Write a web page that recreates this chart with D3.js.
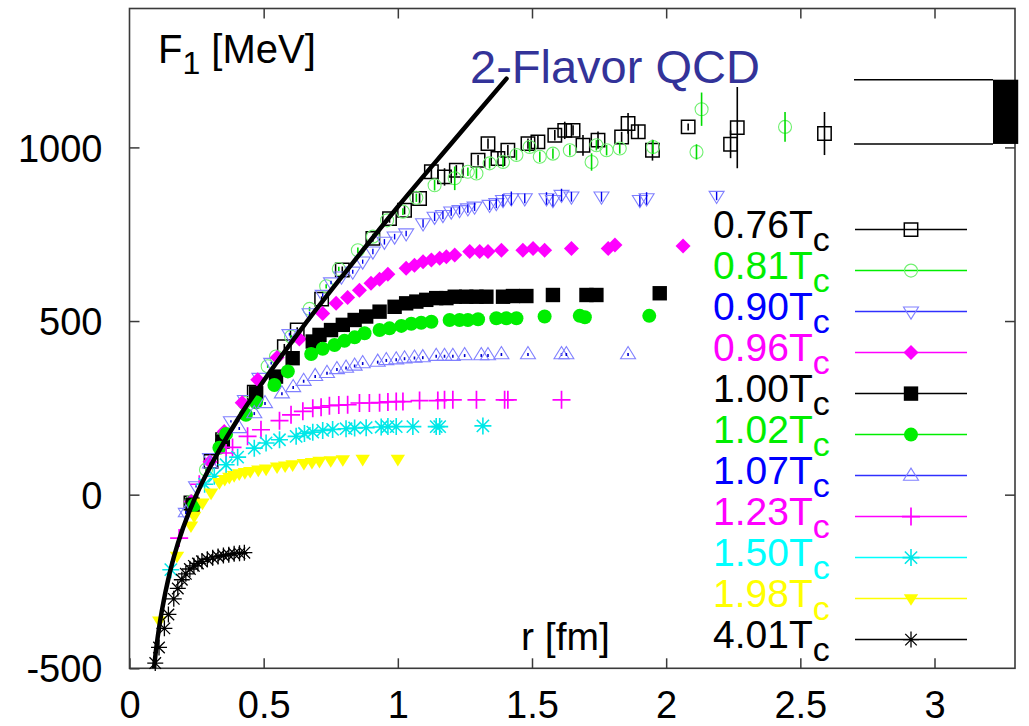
<!DOCTYPE html>
<html><head><meta charset="utf-8">
<script src="https://cdn.jsdelivr.net/npm/d3@7"></script>
<style>
html,body{margin:0;padding:0;background:#fff;}
svg{display:block;font-family:"Liberation Sans",Arial,Helvetica,sans-serif;}
</style></head>
<body>
<svg id="chart" width="1029" height="726"></svg>
<script>
// ---------------- data (r [fm], F1 [MeV], error [MeV]) ----------------
const xTicks = [0, 0.5, 1, 1.5, 2, 2.5, 3];
const xTickLabels = ["0", "0.5", "1", "1.5", "2", "2.5", "3"];
const yTicks = [-500, 0, 500, 1000];
const yTickLabels = ["-500", "0", "500", "1000"];

const legendLabels = ["0.76", "0.81", "0.90", "0.96", "1.00", "1.02", "1.07", "1.23", "1.50", "1.98", "4.01"];

const s076 = [[0.229,-24,8],[0.304,96,8],[0.347,158,8],[0.465,295,8],[0.577,426,8],[0.625,474,8],[0.716,563,8],[0.793,647,10],[0.907,738,10],[0.969,795,12],[1.025,819,12],[1.081,853,15],[1.125,930,20],[1.174,915,25],[1.218,934,15],[1.299,963,15],[1.336,1011,15],[1.373,968,20],[1.41,992,15],[1.485,1011,15],[1.522,1016,20],[1.585,1035,15],[1.622,1049,25],[1.653,1049,15],[1.69,1006,30],[1.746,1021,25],[1.834,1030,15],[1.858,1069,30],[1.896,1045,20],[1.949,992,30],[2.082,1059,10],[2.24,1009,40],[2.265,1057,117],[2.59,1040,62]];
const s081 = [[0.23,-20,5],[0.285,72,5],[0.347,165,5],[0.428,264,5],[0.515,370,5],[0.546,398,5],[0.602,455,5],[0.671,535,6],[0.733,600,6],[0.78,650,6],[0.851,704,8],[0.907,743,8],[0.96,790,8],[1.019,815,10],[1.069,855,12],[1.137,891,15],[1.212,911,34],[1.261,930,12],[1.293,925,15],[1.342,954,15],[1.392,958,15],[1.442,978,15],[1.491,1001,15],[1.529,973,15],[1.578,982,15],[1.641,992,15],[1.722,958,25],[1.74,1006,15],[1.778,992,15],[1.827,997,15],[1.951,1001,20],[2.113,987,22],[2.132,1110,48],[2.443,1059,43]];
const s090 = [[0.21,-53,3],[0.248,24,3],[0.30,105,3],[0.378,211,3],[0.43,272,3],[0.484,336,3],[0.528,379,4],[0.596,462,4],[0.671,522,5],[0.72,575,5],[0.751,611,5],[0.79,628,6],[0.832,642,6],[0.869,671,6],[0.907,700,8],[0.95,728,8],[0.988,743,8],[1.031,752,8],[1.094,781,12],[1.137,800,12],[1.168,805,12],[1.199,815,12],[1.23,819,12],[1.261,824,12],[1.286,829,12],[1.342,834,14],[1.367,839,14],[1.392,848,18],[1.423,853,20],[1.473,853,14],[1.554,853,18],[1.578,848,18],[1.61,863,18],[1.647,858,14],[1.759,858,14],[1.902,848,18],[1.927,853,18],[2.188,860,12]];
const s096 = [[0.23,-20],[0.30,95],[0.353,182],[0.42,265],[0.478,331],[0.55,395],[0.633,448],[0.72,522],[0.77,551],[0.813,568],[0.857,589],[0.9,609],[0.932,620],[0.963,635],[1.031,652],[1.062,661],[1.094,671],[1.125,676],[1.156,681],[1.181,685],[1.212,690],[1.268,700],[1.305,700],[1.336,700],[1.386,704],[1.466,704],[1.504,709],[1.547,704],[1.647,709],[1.784,709],[1.809,719],[2.063,716]];
const s100 = [[0.235,-29],[0.347,153],[0.472,292],[0.546,340],[0.608,393],[0.683,441],[0.708,460],[0.751,474],[0.795,489],[0.839,503],[0.882,513],[0.932,527],[0.988,541],[1.031,551],[1.069,556],[1.106,561],[1.143,566],[1.181,566],[1.212,570],[1.255,570],[1.293,570],[1.33,570],[1.392,570],[1.429,572],[1.479,572],[1.578,575],[1.703,575],[1.74,575],[1.976,580]];
const s102 = [[0.241,-30],[0.335,135],[0.36,175],[0.434,230],[0.472,266],[0.54,316],[0.59,355],[0.677,405],[0.72,420],[0.764,431],[0.801,443],[0.839,453],[0.876,465],[0.932,474],[0.969,479],[1.013,486],[1.05,492],[1.087,495],[1.125,498],[1.193,503],[1.23,503],[1.261,503],[1.299,505],[1.367,508],[1.404,508],[1.442,508],[1.547,513],[1.678,515],[1.697,511],[1.937,515]];
const s107 = [[0.21,-50],[0.30,90],[0.409,192],[0.465,235],[0.505,264],[0.568,292],[0.61,310],[0.649,328],[0.692,342],[0.736,351],[0.773,362],[0.807,366],[0.839,372],[0.869,379],[0.925,383],[0.957,388],[0.994,390],[1.025,393],[1.062,395],[1.093,396],[1.143,400],[1.174,400],[1.205,400],[1.249,402],[1.311,402],[1.336,402],[1.386,405],[1.485,405],[1.61,405],[1.628,405],[1.858,405]];
const s123 = [[0.185,-125],[0.26,30],[0.36,120],[0.384,136],[0.44,168],[0.49,187],[0.559,213],[0.602,230],[0.646,240],[0.683,249],[0.714,252],[0.745,256],[0.78,258],[0.813,259],[0.857,264],[0.894,264],[0.932,265],[0.963,267],[0.994,268],[1.019,268],[1.081,271],[1.149,271],[1.174,273],[1.205,273],[1.293,273],[1.398,273],[1.41,273],[1.61,273]];
const s150 = [[0.154,-216],[0.28,30],[0.316,53],[0.36,86],[0.403,108],[0.465,134],[0.509,149],[0.559,158],[0.621,168],[0.652,176],[0.683,180],[0.72,185],[0.757,188],[0.807,190],[0.839,192],[0.882,193],[0.938,195],[0.963,196],[0.994,196],[1.056,196],[1.143,196],[1.156,196],[1.317,198]];
const s198 = [[0.111,-364],[0.177,-177],[0.229,-90],[0.241,-62],[0.272,-24],[0.304,5],[0.335,35],[0.355,44],[0.372,50],[0.39,55],[0.409,60],[0.43,64],[0.45,67],[0.48,71],[0.509,74],[0.55,80],[0.58,83],[0.608,86],[0.65,90],[0.68,93],[0.708,96],[0.75,98],[0.795,101],[0.869,102],[1.0,102]];
const s401 = [[0.096,-485],[0.11,-440],[0.13,-385],[0.145,-345],[0.165,-300],[0.18,-270],[0.195,-245],[0.21,-228],[0.225,-214],[0.24,-205],[0.255,-198],[0.27,-192],[0.29,-186],[0.31,-182],[0.33,-178],[0.35,-175],[0.37,-173],[0.39,-170],[0.41,-169],[0.428,-167]];

// 2-flavor QCD (T=0) curve
const qcdCurve = [[0.0915,-500],[0.10,-440],[0.12,-337],[0.15,-225],[0.18,-141],[0.22,-54],[0.27,34],[0.33,122],[0.40,213],[0.50,328],[0.65,487],[0.80,636],[1.00,829],[1.20,1012],[1.405,1198]];

// band at large r (top right)
const bandF = [1010, 1195];
const bandR = [2.70, 3.218, 3.312];

// ---------------- layout ----------------
const svg = d3.select("#chart");
const X0 = 129.5, X1 = 1015, Y0 = 668.3, Y1 = 8.5;
const x = d3.scaleLinear().domain([0, 3.3]).range([X0, X1]);
const y = d3.scaleLinear().domain([-500, 1400]).range([Y0, Y1]);
const FS = 38;
const frameColor = "#3a3a3a";

svg.append("defs").append("clipPath").attr("id", "clip")
  .append("rect").attr("x", X0).attr("y", Y1).attr("width", X1 - X0).attr("height", Y0 - Y1);

// axes (gnuplot-style inward ticks on all sides)
const gB = svg.append("g").attr("transform", `translate(0,${Y0})`)
  .call(d3.axisBottom(x).tickValues(xTicks).tickSizeInner(-10).tickSizeOuter(0).tickPadding(23)
    .tickFormat((d, i) => xTickLabels[i]));
const gT = svg.append("g").attr("transform", `translate(0,${Y1})`)
  .call(d3.axisTop(x).tickValues(xTicks.slice(1)).tickSizeInner(-10).tickSizeOuter(0).tickFormat(""));
const gL = svg.append("g").attr("transform", `translate(${X0},0)`)
  .call(d3.axisLeft(y).tickValues(yTicks).tickSizeInner(-10).tickSizeOuter(0).tickPadding(27)
    .tickFormat((d, i) => yTickLabels[i]));
const gR = svg.append("g").attr("transform", `translate(${X1},0)`)
  .call(d3.axisRight(y).tickValues(yTicks.slice(1)).tickSizeInner(-10).tickSizeOuter(0).tickFormat(""));
[gB, gT, gL, gR].forEach(g => {
  g.select(".domain").remove();
  g.selectAll(".tick line").attr("stroke", frameColor).attr("stroke-width", 1.5);
  g.selectAll(".tick text").attr("fill", "#000").style("font-size", FS + "px")
    .style("font-family", '"Liberation Sans",Arial,sans-serif');
});
gL.selectAll(".tick text").attr("dy", "0.36em");

svg.append("rect").attr("x", X0).attr("y", Y1).attr("width", X1 - X0).attr("height", Y0 - Y1)
  .attr("fill", "none").attr("stroke", frameColor).attr("stroke-width", 1.6);

// ---------------- marker shapes ----------------
function shapePath(type, h) {
  switch (type) {
    case "square": return `M${-h},${-h}H${h}V${h}H${-h}Z`;
    case "triDown": return `M${-h},${-0.62*h}L${h},${-0.62*h}L0,${h}Z`;
    case "triUp": return `M${-h},${0.62*h}L${h},${0.62*h}L0,${-h}Z`;
    case "diamond": return `M0,${-h}L${h},0L0,${h}L${-h},0Z`;
    case "plus": return `M${-h},0H${h}M0,${-h}V${h}`;
    case "star": { const d = 0.72*h; return `M${-h},0H${h}M0,${-h}V${h}M${-d},${-d}L${d},${d}M${-d},${d}L${d},${-d}`; }
  }
  return "";
}

const series = [
  {data: s076, label: legendLabels[0], color: "#000000", text: "#000000", shape: "square", size: 6.7, fill: false, mk: "#000", eb: "#000", ebw: 1.6, lw: 1.5},
  {data: s081, label: legendLabels[1], color: "#00ee00", text: "#00ee00", shape: "circle", size: 6.5, fill: false, mk: "#70f070", eb: "#00dd00", ebw: 1.6, lw: 1.1},
  {data: s090, label: legendLabels[2], color: "#3030ff", text: "#0000ff", shape: "triDown", size: 7.5, fill: false, mk: "#8080ff", eb: "#0000ee", ebw: 1.4, lw: 1.1},
  {data: s096, label: legendLabels[3], color: "#ff00ff", text: "#ff00ff", shape: "diamond", size: 7.5, fill: true, mk: "#ff00ff"},
  {data: s100, label: legendLabels[4], color: "#000000", text: "#000000", shape: "square", size: 7.2, fill: true, mk: "#000"},
  {data: s102, label: legendLabels[5], color: "#00ee00", text: "#00ee00", shape: "circle", size: 7, fill: true, mk: "#00ee00"},
  {data: s107, label: legendLabels[6], color: "#3030ff", text: "#0000ff", shape: "triUp", size: 7.5, fill: false, mk: "#8080ff", dot: "#0000cc", lw: 1.1},
  {data: s123, label: legendLabels[7], color: "#ff00ff", text: "#ff00ff", shape: "plus", size: 9, fill: false, mk: "#ff00ff", lw: 1.7},
  {data: s150, label: legendLabels[8], color: "#00ffff", text: "#00ffff", shape: "star", size: 8.5, fill: false, mk: "#00e8e8", lw: 1.6},
  {data: s198, label: legendLabels[9], color: "#ffff00", text: "#ffff00", shape: "triDown", size: 7.2, fill: true, mk: "#ffff00"},
  {data: s401, label: legendLabels[10], color: "#000000", text: "#000000", shape: "star", size: 8, fill: false, mk: "#000", lw: 1.3}
];

function drawMarker(g, s, cx, cy) {
  if (s.shape === "circle") {
    g.append("circle").attr("cx", cx).attr("cy", cy).attr("r", s.size)
      .attr("fill", s.fill ? s.mk : "none").attr("stroke", s.fill ? "none" : s.mk)
      .attr("stroke-width", s.lw || 1);
  } else {
    const filled = s.fill;
    g.append("path").attr("d", shapePath(s.shape, s.size))
      .attr("transform", `translate(${cx},${cy})`)
      .attr("fill", filled ? s.mk : "none").attr("stroke", filled ? "none" : s.mk)
      .attr("stroke-width", s.lw || 1);
  }
}

const dataG = svg.append("g");
series.forEach(s => {
  const g = dataG.append("g");
  s.data.forEach(p => {
    const cx = x(p[0]), cy = y(p[1]);
    drawMarker(g, s, cx, cy);
    if (s.eb && p[2] !== undefined) {
      g.append("line").attr("x1", cx).attr("x2", cx).attr("y1", y(p[1] - p[2])).attr("y2", y(p[1] + p[2]))
        .attr("stroke", s.eb).attr("stroke-width", s.ebw);
    }
    if (s.dot) {
      g.append("line").attr("x1", cx).attr("x2", cx).attr("y1", cy - 1).attr("y2", cy + 2)
        .attr("stroke", s.dot).attr("stroke-width", 1.6);
    }
  });
});

// 2-flavor QCD curve
const line = d3.line().x(d => x(d[0])).y(d => y(d[1])).curve(d3.curveCatmullRom.alpha(0.5));
svg.append("path").datum(qcdCurve).attr("d", line).attr("clip-path", "url(#clip)")
  .attr("fill", "none").attr("stroke", "#000").attr("stroke-width", 4.5).attr("stroke-linecap", "round");

// band at the top right
bandF.forEach(f => {
  svg.append("line").attr("x1", x(bandR[0])).attr("x2", x(bandR[1])).attr("y1", y(f)).attr("y2", y(f))
    .attr("stroke", "#000").attr("stroke-width", 1.5);
});
svg.append("rect").attr("x", x(bandR[1])).attr("y", y(bandF[1])).attr("width", x(bandR[2]) - x(bandR[1]))
  .attr("height", y(bandF[0]) - y(bandF[1])).attr("fill", "#000");

// texts
const t1 = svg.append("text").attr("x", 158).attr("y", 63).style("font-size", "40px").attr("fill", "#000");
t1.append("tspan").text("F");
t1.append("tspan").attr("dy", 11).style("font-size", "32px").text("1");
t1.append("tspan").attr("dy", -11).text(" [MeV]");

svg.append("text").attr("x", 470).attr("y", 83).style("font-size", "47px").attr("fill", "#333399").text("2-Flavor QCD");
svg.append("text").attr("x", 521).attr("y", 650).style("font-size", "39px").attr("fill", "#000").text("r [fm]");

// legend
const legG = svg.append("g");
series.forEach((s, i) => {
  const base = 238 + i * 41.0;
  const t = legG.append("text").attr("x", 713).attr("y", base).style("font-size", "39px").attr("fill", s.text);
  t.append("tspan").text(s.label + "T");
  t.append("tspan").attr("dy", 13).style("font-size", "34px").text("c");
  const ly = base - 8.4;
  legG.append("line").attr("x1", 855).attr("x2", 967).attr("y1", ly).attr("y2", ly)
    .attr("stroke", s.color).attr("stroke-width", 1.5);
  drawMarker(legG, s, 911, ly);
});
</script>
</body></html>
